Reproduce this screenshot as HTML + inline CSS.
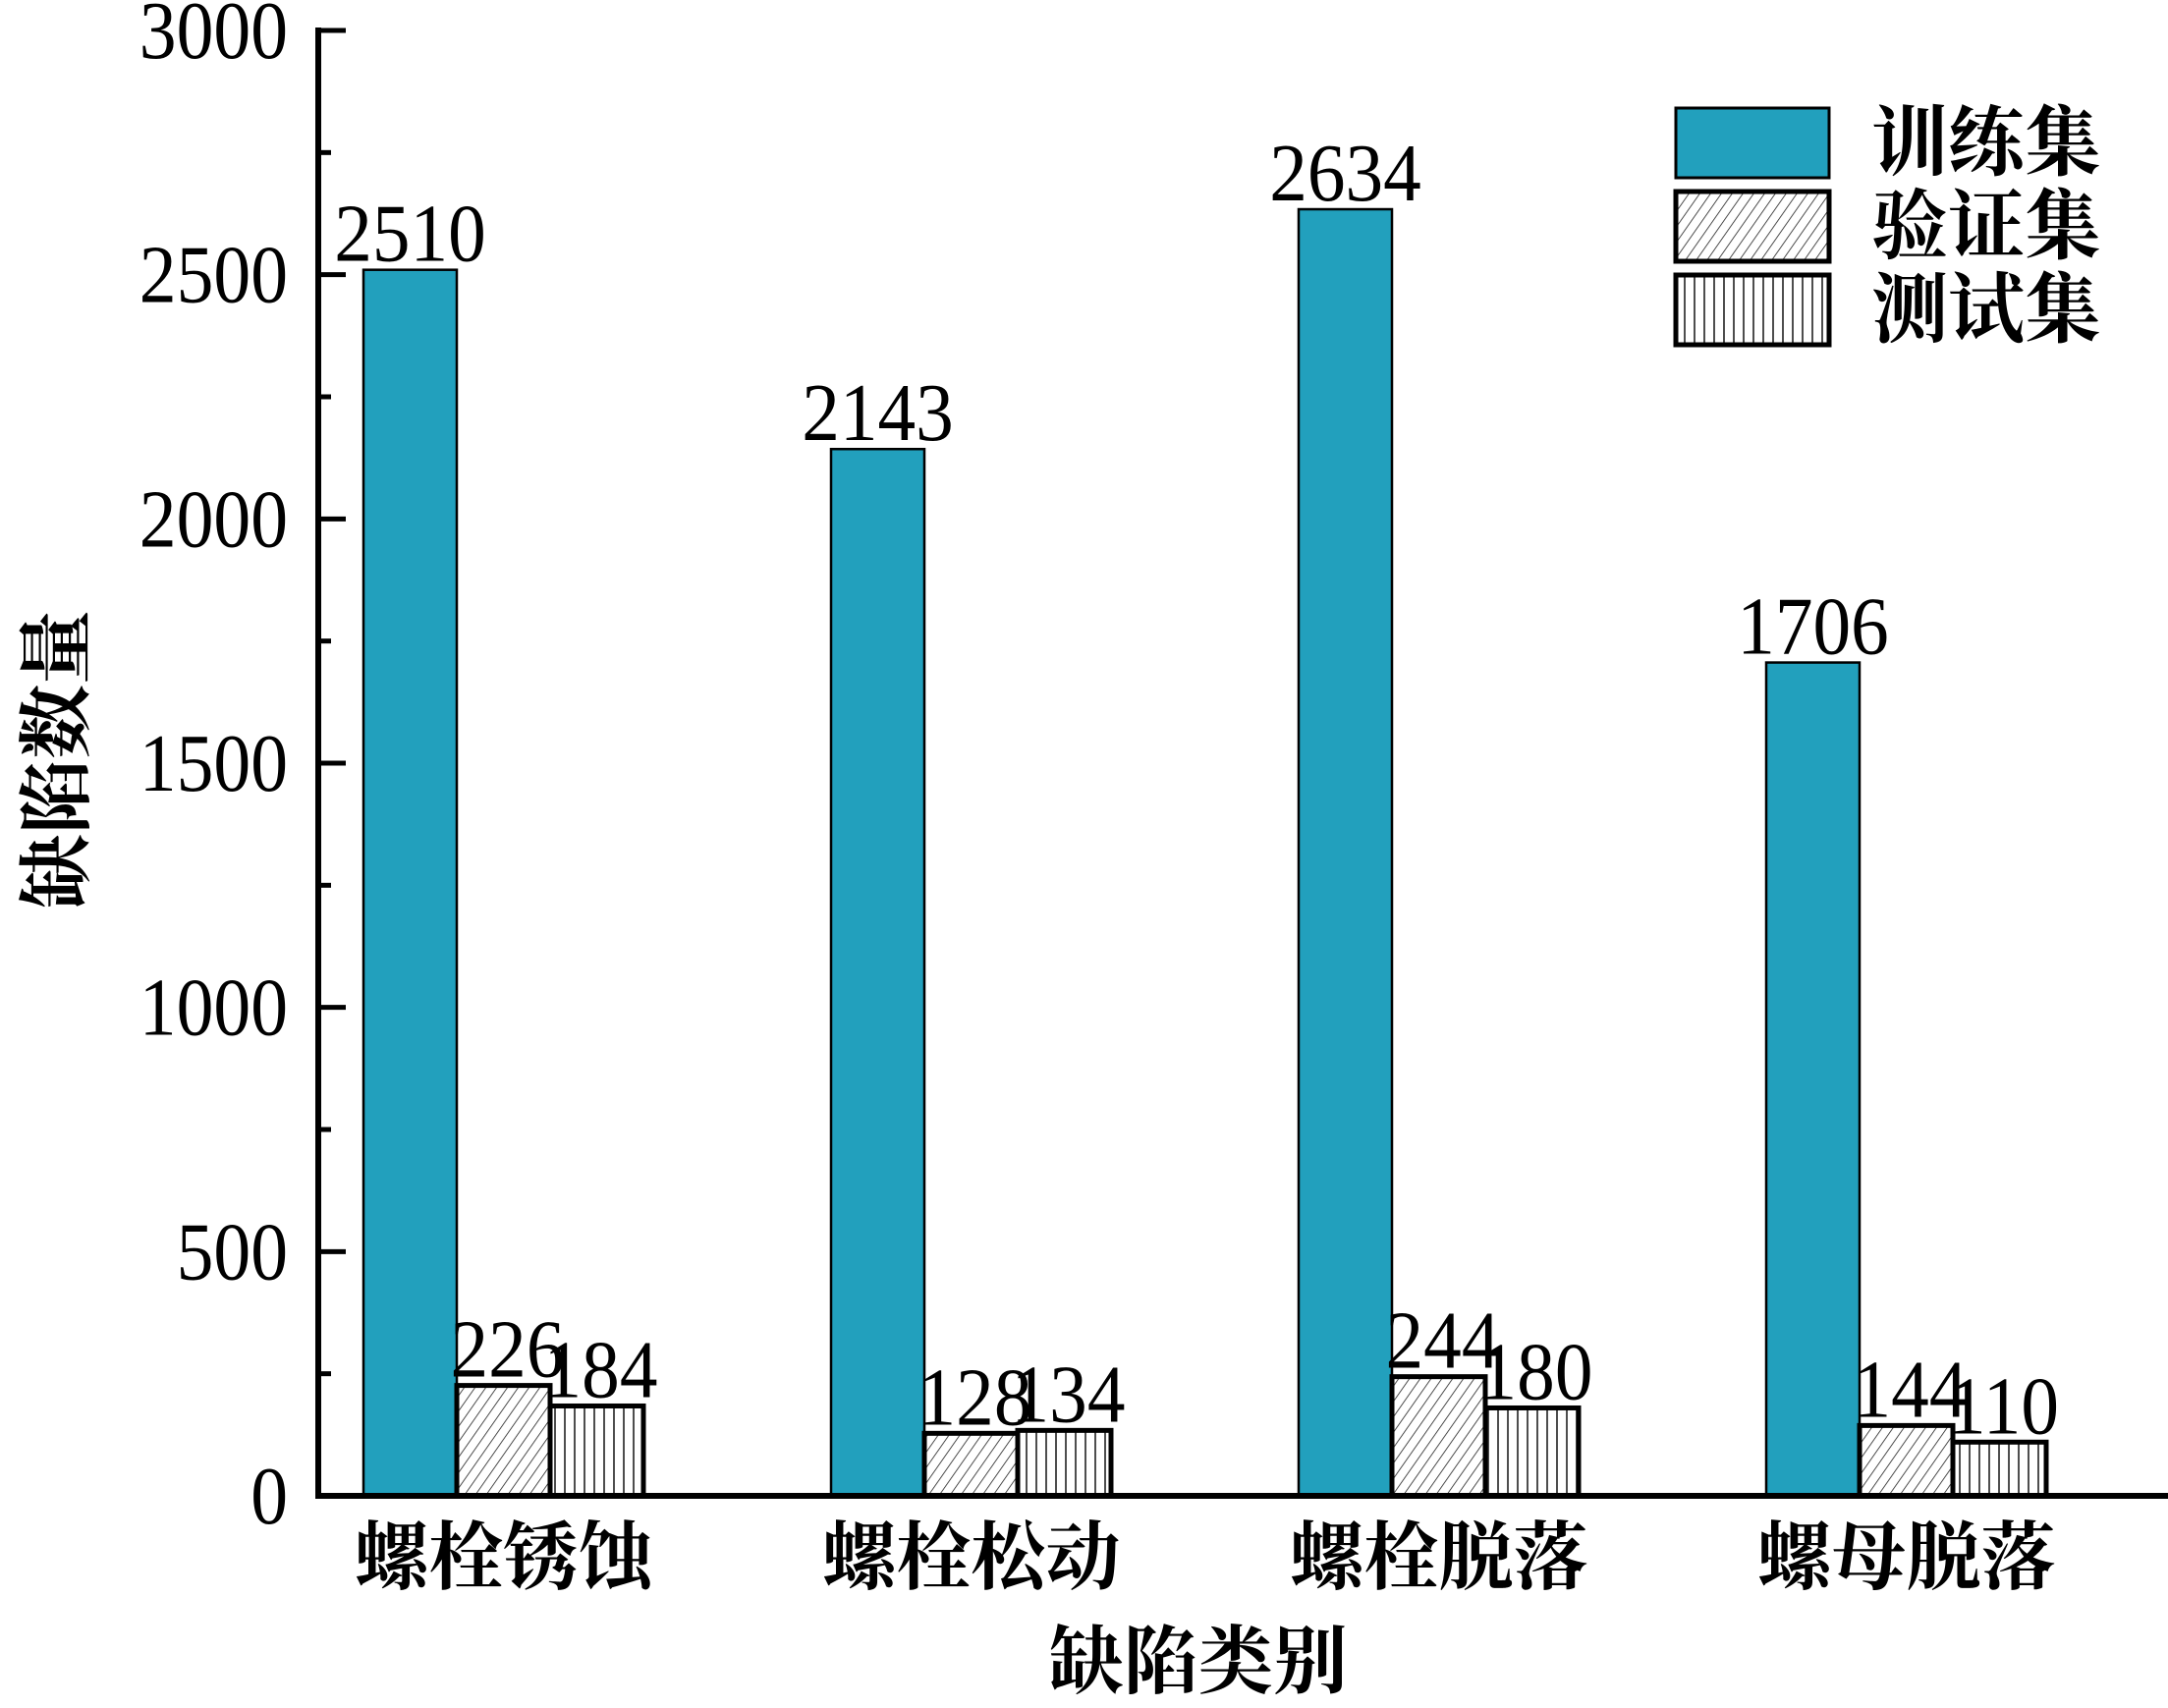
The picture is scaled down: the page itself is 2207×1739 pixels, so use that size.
<!DOCTYPE html>
<html><head><meta charset="utf-8"><style>
html,body{margin:0;padding:0;background:#fff}
svg{display:block}
text{font-family:"Liberation Serif","Noto Serif CJK SC",serif;fill:#000}
.cjk{font-family:"Liberation Serif","Noto Serif CJK SC","Noto Sans CJK SC",serif;font-weight:bold}
</style></head><body>
<svg id="chart" width="2207" height="1739" viewBox="0 0 2207 1739" xmlns="http://www.w3.org/2000/svg">
<defs>
<pattern id="diag" patternUnits="userSpaceOnUse" width="9" height="9" patternTransform="rotate(35)">
<rect width="9" height="9" fill="#fff"/><line x1="0" y1="0" x2="0" y2="9" stroke="#222" stroke-width="1.6"/>
</pattern>
<pattern id="vert" patternUnits="userSpaceOnUse" width="10" height="10">
<rect width="10" height="10" fill="#fff"/><line x1="5" y1="0" x2="5" y2="10" stroke="#222" stroke-width="1.6"/>
</pattern>
</defs>
<g id="plot"></g>
</svg>
<script>
const categories = ['螺栓锈蚀','螺栓松动','螺栓脱落','螺母脱落'];
const seriesNames = ['训练集','验证集','测试集'];
const trainValues = [2510,2143,2634,1706];
const valValues = [226,128,244,144];
const testValues = [184,134,180,110];
const yTicks = [0,500,1000,1500,2000,2500,3000];

const NS='http://www.w3.org/2000/svg';
const g=document.getElementById('plot');
const X0=324, Y0=1523, YTOP=31, YMAX=3000;
const y=v=>Y0-(v/YMAX)*(Y0-YTOP);
const groupStart=i=>370+i*476;
const BW=95;
function mk(tag,attrs,parent){const e=document.createElementNS(NS,tag);for(const k in attrs)e.setAttribute(k,attrs[k]);(parent||g).appendChild(e);return e;}
const fills=['#22a0bd','url(#diag)','url(#vert)'];
const series=[trainValues,valValues,testValues];
series.forEach((vals,s)=>{
  vals.forEach((v,i)=>{
    const x=groupStart(i)+s*BW;
    const r=mk('rect',{x:x,y:y(v),width:BW,height:Y0-y(v),fill:fills[s],stroke:'#000','stroke-width':s===0?2.5:5});
    
    
    const t=mk('text',{x:0,y:0,'font-size':84,'text-anchor':'middle',transform:'translate('+(x+BW/2+(s===0?0:4))+','+(y(v)-9)+') scale(0.92,1)'});
    t.textContent=v;
    
    
  });
});
const ya=mk('line',{x1:X0,y1:YTOP-3,x2:X0,y2:Y0+3,stroke:'#000','stroke-width':6});


const xa=mk('line',{x1:X0-3,y1:Y0,x2:2207,y2:Y0,stroke:'#000','stroke-width':6});


for(let v=250;v<YMAX;v+=500){mk('line',{x1:X0,y1:y(v),x2:X0+13,y2:y(v),stroke:'#000','stroke-width':5});}
yTicks.forEach(v=>{
  mk('line',{x1:X0,y1:y(v),x2:X0+28,y2:y(v),stroke:'#000','stroke-width':5});
  const t=mk('text',{x:0,y:0,'font-size':84,'text-anchor':'end',transform:'translate(293,'+(y(v)+28)+') scale(0.9,1)'});
  t.textContent=v;
  
  
});
categories.forEach((c,i)=>{
  const t=mk('text',{x:groupStart(i)+1.5*BW,y:1612,'font-size':76,'text-anchor':'middle',class:'cjk'});
  t.textContent=c;
  
  
});
const xt=mk('text',{x:1220,y:1718,'font-size':76,'text-anchor':'middle',class:'cjk'});
xt.textContent='缺陷类别';


const yt=mk('text',{x:0,y:0,'font-size':76,'text-anchor':'middle',class:'cjk',transform:'translate(84,773) rotate(-90)'});
yt.textContent='缺陷数量';


seriesNames.forEach((n,s)=>{
  const top=110+s*85;
  const r=mk('rect',{x:1706,y:top,width:156,height:71,fill:fills[s],stroke:'#000','stroke-width':s===0?3:5});
  
  
  const t=mk('text',{x:1905,y:top+62,'font-size':78,class:'cjk'});
  t.textContent=n;
  
  
});
</script>
</body></html>
